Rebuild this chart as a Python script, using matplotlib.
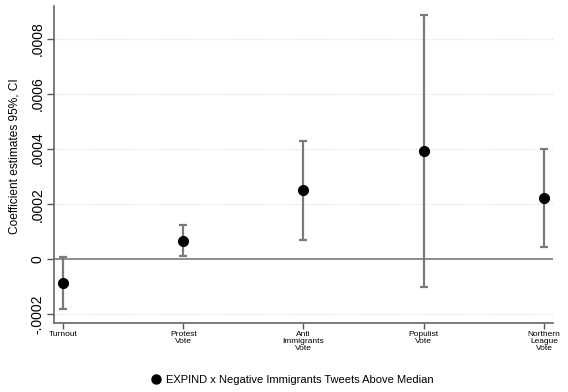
import matplotlib
matplotlib.use("Agg")
import matplotlib.pyplot as plt
from matplotlib.lines import Line2D

plt.rcParams['font.family'] = ['Liberation Sans', 'DejaVu Sans']

# categories and estimates
labels = ["Turnout", "Protest\nVote", "Anti\nImmigrants\nVote", "Populist\nVote", "Northern\nLeague\nVote"]
coef = [-0.0000876, 0.000068, 0.000252, 0.000394, 0.000222]
ci_low = [-0.000179, 0.000012, 0.000070, -0.0000994, 0.0000435]
ci_high = [0.000007, 0.000125, 0.000429, 0.000886, 0.000400]
yticks = [-0.0002, 0, 0.0002, 0.0004, 0.0006, 0.0008]
ytick_labels = ["-.0002", "0", ".0002", ".0004", ".0006", ".0008"]
legend_label = "EXPIND x Negative Immigrants Tweets Above Median"

pos = list(range(1, len(labels) + 1))
err = [[c - lo for c, lo in zip(coef, ci_low)], [hi - c for c, hi in zip(coef, ci_high)]]

fig = plt.figure(figsize=(5.68, 3.92), dpi=100)
ax = fig.add_axes([54 / 568, 1 - 323 / 392, (553 - 54) / 568, (323 - 6) / 392])

# grid + zero line
for t in yticks:
    if t != 0:
        ax.axhline(t, color="#dcdcdc", lw=0.8, ls=(0, (1, 1.5)), zorder=0)
ax.axhline(0, color="#7a7a7a", lw=1.2, zorder=1)

ax.errorbar(pos, coef, yerr=err, fmt="none", ecolor="#7a7a7a", elinewidth=1.6,
            capsize=2.6, capthick=1.6, zorder=2)
ax.plot(pos, coef, "o", color="black", ms=7, zorder=3)

ax.set_xlim(0.925, 5.075)
ax.set_ylim(-0.000231, 0.000919)
ax.set_xticks(pos)
ax.set_xticklabels(labels, fontsize=6, linespacing=1.0)
ax.set_yticks(yticks)
ax.set_yticklabels(ytick_labels, rotation=90, va="center", fontsize=10)
ax.tick_params(axis="y", length=5, width=1, color="#555555", pad=2)
ax.tick_params(axis="x", length=4, width=1, color="#555555", pad=2)
ax.set_ylabel("Coefficient estimates 95%, CI", fontsize=8.6)
ax.yaxis.set_label_coords(-0.068, 0.527)

for s in ["top", "right"]:
    ax.spines[s].set_visible(False)
for s in ["left", "bottom"]:
    ax.spines[s].set_color("#666666")
    ax.spines[s].set_linewidth(1.2)

handle = Line2D([], [], marker="o", color="black", ls="none", ms=6.5)
fig.legend([handle], [legend_label], loc="center", bbox_to_anchor=(292 / 568, 1 - 380 / 392),
           frameon=False, fontsize=8, handletextpad=0.4, handlelength=1.0)

fig.savefig("out.png", dpi=100)
